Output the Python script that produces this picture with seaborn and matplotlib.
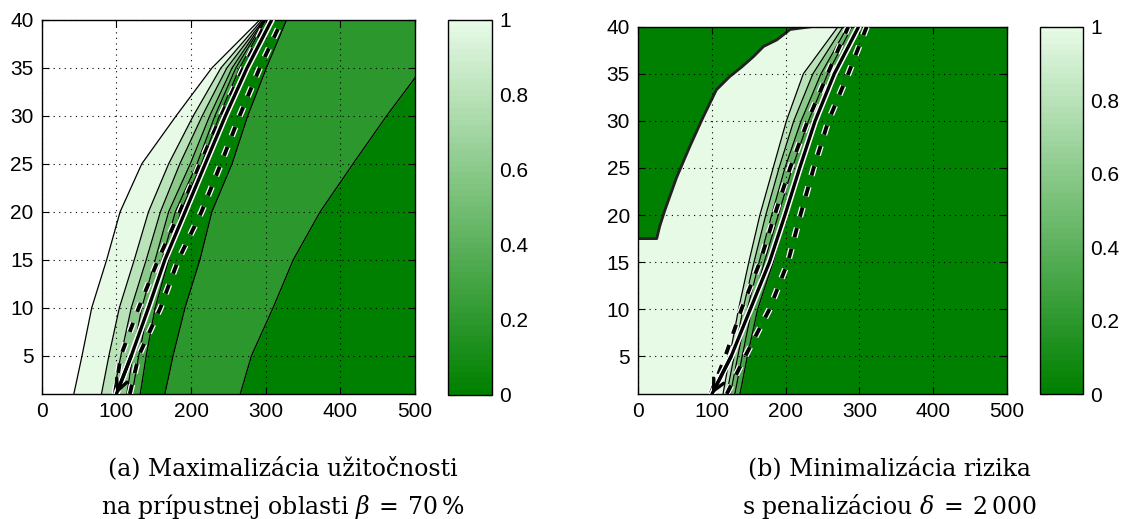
import matplotlib
matplotlib.use("Agg")
import matplotlib.pyplot as plt
import matplotlib.patheffects as pe
from matplotlib.colors import LinearSegmentedColormap, Normalize
from matplotlib.cm import ScalarMappable
import pandas as pd
import seaborn as sns

# ---------------- data ----------------
Y = [1, 5, 10, 15, 20, 25, 30, 35, 40]

# panel (a): band boundaries (x position at each Y)
a_b1 = [43, 54, 67, 87, 105, 134, 180, 228, 292]
a_b2 = [80, 90, 104, 124, 143, 170, 203, 240, 295]
a_b3 = [96, 106, 120, 140, 159, 185, 215, 248, 297]
a_b4 = [114, 122, 134, 152, 170, 199, 225, 255, 298]
a_b5 = [121, 130, 143, 161, 179, 208, 232, 260, 299]
a_b6 = [132, 140, 152, 170, 186, 214, 238, 265, 300]
a_fan_vals = [1.0, 0.8, 0.6, 0.45, 0.3]
a_dark_med = [165, 176, 192, 212, 228, 255, 276, 301, 328]
a_med_dark = [266, 281, 310, 337, 373, 417, 462, 510, 555]
a_band_vals = [0.0, 0.2, 0.0]
a_solid = [100, 120, 143, 165, 192, 219, 246, 275, 308]
a_dash_l = [98, 106, 130, 156, 185, 212, 240, 270, 302]
a_dash_r = [118, 130, 159, 183, 214, 240, 265, 292, 322]

# panel (b)
b_b1 = [115, 124, 136, 150, 165, 183, 201, 224, 271]
b_b2 = [120, 130, 142, 157, 173, 191, 211, 237, 278]
b_b3 = [125, 135, 148, 164, 181, 199, 221, 248, 284]
b_b4 = [131, 141, 154, 171, 190, 209, 231, 257, 290]
b_b5 = [138, 148, 162, 183, 201, 221, 242, 268, 301]
b_fan_vals = [0.8, 0.6, 0.45, 0.3]
b_top_x = [0, 25, 29, 36, 52, 70, 88, 106, 124, 140, 156, 170, 188, 206, 235]
b_top_y = [17.5, 17.5, 18.8, 20.5, 24, 27.3, 30.4, 33.3, 34.7, 35.7, 36.8, 37.9, 38.6, 39.7, 40]
b_solid = [100, 126, 152, 178, 199, 219, 240, 266, 299]
b_dash_l = [98, 118, 140, 165, 185, 206, 230, 257, 285]
b_dash_r = [120, 145, 178, 203, 220, 238, 258, 285, 310]

xticks = [0, 100, 200, 300, 400, 500]
yticks = [5, 10, 15, 20, 25, 30, 35, 40]
cticks = [0, 0.2, 0.4, 0.6, 0.8, 1]
cticklabels = ["0", "0.2", "0.4", "0.6", "0.8", "1"]
caption_a = ["(a) Maximalizácia užitočnosti", r"na prípustnej oblasti $\beta\:=\:70\,\%$"]
caption_b = ["(b) Minimalizácia rizika", r"s penalizáciou $\delta\:=\:2\,000$"]

# ---------------- style ----------------
sns.set_style("white")
plt.rcParams["font.family"] = ["Liberation Sans", "DejaVu Sans"]
plt.rcParams["mathtext.fontset"] = "dejavuserif"
plt.rcParams["text.color"] = "black"

cmap = LinearSegmentedColormap.from_list("gr", ["#008000", "#e6fae6"], N=64)
norm = Normalize(0, 1)
XMIN, XMAX, YMIN, YMAX = 0, 500, 1, 40

fig = plt.figure(figsize=(11.37, 5.19), dpi=100)


def style_axes(ax):
    ax.set_xlim(XMIN, XMAX)
    ax.set_ylim(YMIN, YMAX)
    ax.set_xticks(xticks)
    ax.set_yticks(yticks)
    ax.tick_params(direction="in", length=5, width=0.8, labelsize=15, pad=6,
                   top=True, right=True, bottom=True, left=True, colors="k")
    ax.grid(True, color="k", linestyle=(0, (1, 4)), linewidth=0.8)
    ax.set_axisbelow(False)
    for s in ax.spines.values():
        s.set_color("k")
        s.set_linewidth(1.0)


def draw_lines(ax, solid, dl, dr):
    lw = 2.4
    df = pd.DataFrame({"y": Y, "s": solid, "l": dl, "r": dr})
    stroke = [pe.withStroke(linewidth=lw + 2.2, foreground="white")]
    for col, ls in (("l", (0, (2.5, 3))), ("r", (0, (2.5, 3))), ("s", "-")):
        sns.lineplot(data=df, x=col, y="y", ax=ax, sort=False, estimator=None,
                     color="k", linewidth=lw if ls == "-" else 2.8,
                     linestyle=ls, path_effects=stroke, zorder=4)
    ax.annotate("", xy=(solid[0], Y[0]), xytext=(solid[1], Y[1]),
                arrowprops=dict(arrowstyle="->", color="k", lw=2.4,
                                mutation_scale=20, shrinkA=0, shrinkB=0),
                zorder=5)
    ax.set_xlabel("")
    ax.set_ylabel("")


def colorbar(cax):
    cb = fig.colorbar(ScalarMappable(norm=norm, cmap=cmap), cax=cax, ticks=cticks)
    cb.set_ticklabels(cticklabels)
    cax.tick_params(direction="in", length=5, width=0.8, labelsize=15, pad=5,
                    left=True, right=True, colors="k")
    cb.outline.set_edgecolor("k")
    cb.outline.set_linewidth(1.0)


# ---------------- panel (a) ----------------
axa = fig.add_axes([0.0367, 0.2408, 0.3283, 0.7207])
axa.set_facecolor("white")
a_fan = [a_b1, a_b2, a_b3, a_b4, a_b5, a_b6]
for i, v in enumerate(a_fan_vals):
    axa.fill_betweenx(Y, a_fan[i], a_fan[i + 1], color=cmap(norm(v)), lw=0, zorder=1)
a_outer = [a_b6, a_dark_med, a_med_dark, [XMAX + 100] * len(Y)]
for i, v in enumerate(a_band_vals):
    axa.fill_betweenx(Y, a_outer[i], a_outer[i + 1], color=cmap(norm(v)), lw=0, zorder=1)
for b in a_fan + [a_dark_med, a_med_dark]:
    axa.plot(b, Y, color="k", lw=0.9, zorder=1.5)
style_axes(axa)
draw_lines(axa, a_solid, a_dash_l, a_dash_r)
axa.set_xlim(XMIN, XMAX)
axa.set_ylim(YMIN, YMAX)

caxa = fig.add_axes([0.394, 0.239, 0.0387, 0.7225])
colorbar(caxa)

# ---------------- panel (b) ----------------
axb = fig.add_axes([0.5614, 0.2408, 0.324, 0.7078])
axb.fill_betweenx(Y, [XMIN - 50] * len(Y), b_b1, color=cmap(norm(1.0)), lw=0, zorder=1)
b_fan = [b_b1, b_b2, b_b3, b_b4, b_b5]
for i, v in enumerate(b_fan_vals):
    axb.fill_betweenx(Y, b_fan[i], b_fan[i + 1], color=cmap(norm(v)), lw=0, zorder=1)
axb.fill_betweenx(Y, b_b5, [XMAX + 100] * len(Y), color=cmap(norm(0.0)), lw=0, zorder=1)
axb.fill_between(b_top_x, b_top_y, YMAX + 5, color=cmap(norm(0.0)), lw=0, zorder=1.2)
for b in b_fan:
    axb.plot(b, Y, color="k", lw=0.9, zorder=1.5)
axb.plot(b_top_x, b_top_y, color="#222222", lw=2.0, zorder=1.5)
style_axes(axb)
draw_lines(axb, b_solid, b_dash_l, b_dash_r)
axb.set_xlim(XMIN, XMAX)
axb.set_ylim(YMIN, YMAX)

caxb = fig.add_axes([0.9147, 0.2408, 0.0378, 0.7078])
colorbar(caxb)

# ---------------- captions ----------------
for cx, lines in ((0.249, caption_a), (0.7825, caption_b)):
    fig.text(cx, 0.098, lines[0], ha="center", va="center", fontsize=17,
             family=["DejaVu Serif"], color="black")
    fig.text(cx, 0.025, lines[1], ha="center", va="center", fontsize=17,
             family=["DejaVu Serif"], color="black")

fig.savefig("out.png", dpi=100)
